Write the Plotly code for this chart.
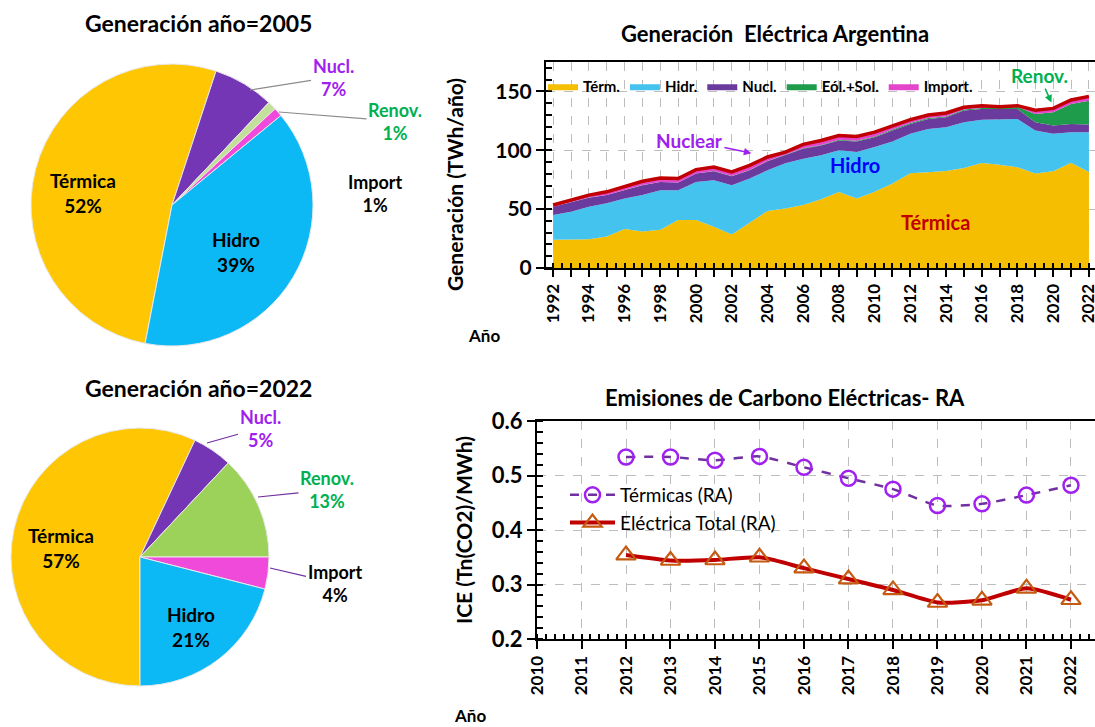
import plotly.graph_objects as go
import numpy as np

W, H = 1095, 727
FONT = "Lato"


def px(x):
    return x / W


def py(y):
    return 1 - y / H


# ---------------- Data: stacked generation (TWh/año) ----------------
years = list(range(1992, 2023))
termica = [24, 24, 24.5, 26.7, 33.2, 31, 32.4, 40.8, 40.8, 35, 28.5, 38.5, 48.4, 50.5,
           53.5, 58.5, 64.5, 59, 64.7, 71.8, 80.5, 81.3, 82.5, 85, 89.3, 87.8, 85.5,
           80.2, 82.2, 89.5, 81.6]
hidro = [21, 23.8, 27.5, 28.2, 25.8, 31, 33.6, 25.2, 32.2, 39.6, 41.9, 37.5, 34.6, 38.5,
         39.4, 37.2, 35.5, 39.5, 38, 35.7, 33.5, 36.7, 37.1, 38.8, 36.7, 38.2, 41.1,
         36.6, 31.8, 25.9, 33.8]
nuclear = [7, 7.9, 7.7, 7.1, 7, 8.4, 7, 6.6, 7.2, 7.6, 7.6, 7, 7.6, 6.9, 8.4, 8.3, 8.3,
           9, 8.3, 9.3, 8.4, 8.6, 8.4, 9.9, 9, 9, 8.4, 7, 7, 7, 6.5]
renov = [0.1, 0.1, 0.1, 0.1, 0.1, 0.1, 0.1, 0.1, 0.1, 0.2, 0.2, 0.2, 0.2, 0.5, 0.5, 0.5,
         0.6, 0.6, 0.7, 0.8, 0.8, 0.8, 0.8, 0.9, 0.9, 1.0, 1.8, 7, 11.3, 16.9, 20.1]
importacion = [1.4, 1.9, 2.1, 2.6, 2.9, 3.2, 3.4, 3.3, 3.3, 3.4, 3.4, 4, 3.5, 2.0, 3.2,
               3.8, 3.7, 3.6, 3.7, 3.4, 2.8, 2.6, 2.9, 1.9, 2, 1.0, 1.1, 3.2, 3.3, 3.4, 3.8]
area_names = ["Térm.", "Hidr.", "Nucl.", "Eól.+Sol.", "Import."]
area_colors = ["#F6BE00", "#45C3EF", "#6A3A9C", "#1E9B4B", "#E346CB"]

# ---------------- Data: pies ----------------
pie_labels = ["Térmica", "Nucl.", "Renov.", "Import", "Hidro"]
pie_2005 = [52, 7, 1, 1, 39]
pie_2022 = [57, 5, 13, 4, 21]
pie_colors_2005 = ["#FFC603", "#7436B5", "#C2E09A", "#F04ADB", "#0DB9F5"]
pie_colors_2022 = ["#FFC603", "#7436B5", "#9DD25A", "#F04ADB", "#0DB9F5"]

# ---------------- Data: emissions ----------------
em_years = list(range(2012, 2023))
ice_termicas = [0.534, 0.534, 0.528, 0.535, 0.515, 0.495, 0.475, 0.445, 0.448, 0.464, 0.482]
ice_total = [0.354, 0.344, 0.345, 0.350, 0.330, 0.310, 0.290, 0.267, 0.271, 0.293, 0.272]

fig = go.Figure()

# ---------- Stacked area ----------
for name, vals, col in zip(area_names, [termica, hidro, nuclear, renov, importacion], area_colors):
    fig.add_trace(go.Scatter(
        x=years, y=vals, name=name, stackgroup="gen", mode="lines",
        line=dict(width=0, color=col), fillcolor=col,
        xaxis="x", yaxis="y", legend="legend"))
total = np.sum([termica, hidro, nuclear, renov, importacion], axis=0)
fig.add_trace(go.Scatter(x=years, y=total, mode="lines", showlegend=False,
                         line=dict(color="#C00000", width=3.5), xaxis="x", yaxis="y"))

# ---------- Pies ----------
fig.add_trace(go.Pie(
    labels=pie_labels, values=pie_2005, sort=False, direction="clockwise", rotation=191,
    marker=dict(colors=pie_colors_2005, line=dict(color="#E8E8E8", width=1)),
    textinfo="none", showlegend=False,
    domain=dict(x=[px(31), px(313)], y=[py(346), py(64)])))
fig.add_trace(go.Pie(
    labels=pie_labels, values=pie_2022, sort=False, direction="clockwise", rotation=180,
    marker=dict(colors=pie_colors_2022, line=dict(color="#E8E8E8", width=1)),
    textinfo="none", showlegend=False,
    domain=dict(x=[px(11), px(269)], y=[py(686), py(428)])))

# ---------- Emissions ----------
fig.add_trace(go.Scatter(
    x=em_years, y=ice_termicas, name="Térmicas (RA)", mode="lines+markers",
    line=dict(color="#7030A0", width=2.5, dash="dash", shape="spline", smoothing=0.6),
    marker=dict(symbol="circle-open", size=15, color="#A020F0", line=dict(width=2.5)),
    xaxis="x2", yaxis="y2", legend="legend2"))
fig.add_trace(go.Scatter(
    x=em_years, y=ice_total, name="Eléctrica Total (RA)", mode="lines+markers",
    line=dict(color="#C00000", width=4, shape="spline", smoothing=0.6),
    marker=dict(symbol="triangle-up-open", size=17, color="#C55A11", line=dict(width=2.2)),
    xaxis="x2", yaxis="y2", legend="legend2"))

bold = dict(family=FONT, weight="bold", color="black")
grid = dict(showgrid=True, gridcolor="#BDBDBD", griddash="dash", gridwidth=1)
common = dict(automargin=False, showline=True, linecolor="black", linewidth=2, mirror=True,
              zeroline=False, ticks="outside", tickwidth=1.5, tickcolor="black",
              ticklabeloverflow="allow")

fig.update_layout(
    template="none",
    width=W, height=H, margin=dict(l=0, r=0, t=0, b=0, autoexpand=False),
    paper_bgcolor="white", plot_bgcolor="white",
    font=dict(family=FONT, color="black"),
    xaxis=dict(domain=[px(546), 1], range=[1991.6, 2022.34],
               tickvals=years, ticktext=[str(y) if y % 2 == 0 else "" for y in years],
               tickangle=-90, tickfont=dict(size=17, **bold), ticklen=7,
               minor=dict(dtick=0.5, tick0=1992, ticks="inside", ticklen=5, tickcolor="black", showgrid=False),
               anchor="y", **grid, **common),
    yaxis=dict(domain=[py(268), py(62)], range=[0, 175], dtick=50,
               tickfont=dict(size=21, **bold), ticklen=8,
               minor=dict(dtick=10, ticks="inside", ticklen=6, tickcolor="black", showgrid=False),
               anchor="x", **grid, **common),
    xaxis2=dict(domain=[px(537), 1], range=[2010, 2022.54],
                tickvals=list(range(2010, 2023)), tickangle=-90, tickfont=dict(size=17, **bold),
                ticklen=8,
                minor=dict(dtick=0.2, tick0=2010, ticks="inside", ticklen=5, tickcolor="black", showgrid=False),
                anchor="y2", **grid, **common),
    yaxis2=dict(domain=[py(639), py(421)], range=[0.2, 0.6], dtick=0.1, tickformat=".1f",
                tickfont=dict(size=22, **bold), ticklen=8,
                minor=dict(dtick=0.02, ticks="inside", ticklen=6, tickcolor="black", showgrid=False),
                anchor="x2", **grid, **common),
    legend=dict(orientation="h", x=px(543), y=py(70), xanchor="left", yanchor="top",
                font=dict(size=15, **bold), bgcolor="rgba(0,0,0,0)", itemwidth=30,
                traceorder="normal", tracegroupgap=0, itemclick=False),
    legend2=dict(orientation="v", x=px(565), y=py(476), xanchor="left", yanchor="top",
                 font=dict(size=19, family=FONT, color="black"), bgcolor="rgba(0,0,0,0)",
                 itemwidth=45, tracegroupgap=4, traceorder="normal"),
)

ann = []


def text_ann(x, y, text, size, color="black", angle=0, **kw):
    ann.append(dict(x=px(x), y=py(y), xref="paper", yref="paper", text=text, showarrow=False,
                    textangle=angle, font=dict(size=size, family=FONT, weight="bold", color=color),
                    xanchor="center", yanchor="middle", **kw))


# Titles
text_ann(198, 23, "Generación año=2005", 23)
text_ann(198, 388, "Generación año=2022", 23)
text_ann(775, 33, "Generación  Eléctrica Argentina", 22)
text_ann(785, 397, "Emisiones de Carbono Eléctricas- RA", 22)
# axis titles
text_ann(455, 185, "Generación (TWh/año)", 21, angle=-90)
text_ann(463, 530, "ICE (Tn(CO2)/MWh)", 21, angle=-90)
text_ann(484, 335, "Año", 17)
text_ann(470, 715, "Año", 17)

# pie inside labels
text_ann(83, 193, "Térmica<br>52%", 19)
text_ann(236, 252, "Hidro<br>39%", 19)
text_ann(61, 548, "Térmica<br>57%", 19)
text_ann(191, 627, "Hidro<br>21%", 19)
text_ann(375, 193, "Import<br>1%", 18)


def leader(hx, hy, tx, ty, text, color, linecolor, size=18):
    ann.append(dict(x=px(hx), y=py(hy), xref="paper", yref="paper", text=text,
                    showarrow=True, arrowhead=0, arrowwidth=1.2, arrowcolor=linecolor,
                    ax=tx - hx, ay=ty - hy,
                    font=dict(size=size, family=FONT, weight="bold", color=color)))


leader(250, 90, 333, 77, "Nucl.<br>7%", "#A020F0", "#8C8C8C")
leader(279, 112, 395, 121, "Renov.<br>1%", "#00B050", "#8C8C8C")
leader(207, 443, 260, 428, "Nucl.<br>5%", "#A020F0", "#7030A0")
leader(258, 497, 327, 490, "Renov.<br>13%", "#00B050", "#7030A0")
leader(270, 568, 335, 583, "Import<br>4%", "black", "#7030A0")

# area chart annotations (data coordinates)
ann.append(dict(x=2003.1, y=97.5, xref="x", yref="y", text="Nuclear", showarrow=True,
                arrowhead=2, arrowsize=1, arrowwidth=1.5, arrowcolor="#A020F0", ax=-62, ay=-13,
                font=dict(size=19, family=FONT, weight="bold", color="#A020F0")))
ann.append(dict(x=2008.9, y=87.3, xref="x", yref="y", text="Hidro", showarrow=False,
                font=dict(size=20, family=FONT, weight="bold", color="#0000FF")))
ann.append(dict(x=2013.4, y=39, xref="x", yref="y", text="Térmica", showarrow=False,
                font=dict(size=20, family=FONT, weight="bold", color="#C00000")))
ann.append(dict(x=2019.9, y=140.5, xref="x", yref="y", text="Renov.", showarrow=True,
                arrowhead=2, arrowsize=1, arrowwidth=1.5, arrowcolor="#00B050", ax=-12, ay=-27,
                font=dict(size=19, family=FONT, weight="bold", color="#00B050")))

fig.update_layout(annotations=ann)
fig.write_html("out.html", config={"displayModeBar": False},
               post_script="document.body.style.margin='0';document.body.style.overflow='hidden';")
